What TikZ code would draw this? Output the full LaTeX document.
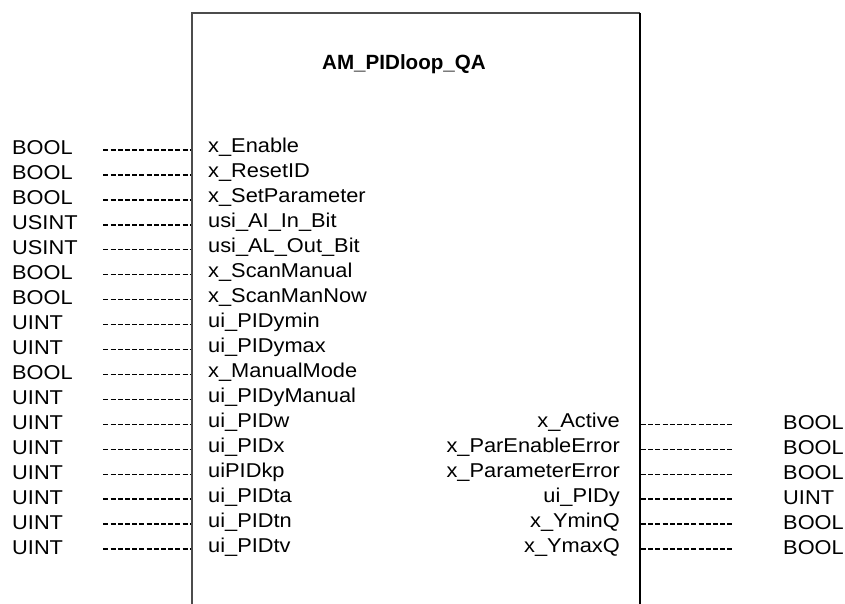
\documentclass[tikz,border=0pt]{standalone}
\usepackage{fontspec}
\setmainfont[FakeStretch=1.09]{Liberation Sans}
\newfontfamily\titlefont{Liberation Sans}
\begin{document}
\begin{tikzpicture}[x=1pt,y=-1pt,
  lbl/.style={inner sep=0pt, font=\fontsize{20}{20}\selectfont},
  typL/.style={lbl, anchor=base west, text width=70pt, align=left},
  pinL/.style={lbl, anchor=base west},
  pinR/.style={lbl, anchor=base east},
  typR/.style={lbl, anchor=base west},
  conn/.style={line width=1.4pt, dash pattern=on 5pt off 2.2pt},
  boxline/.style={line width=1.3pt, draw=black!70}]
\useasboundingbox (0,0) rectangle (845,604);
\draw[boxline] (192,604) -- (192,13) -- (640,13);
\draw[line width=1.3pt] (640,13) -- (640,604);
\node[inner sep=0pt, anchor=base, font=\titlefont\fontsize{20.6}{20.6}\selectfont\bfseries] (title) at (404,70) {AM\_PIDloop\_QA};
\foreach \i/\t/\p in {0/BOOL/x\_Enable,1/BOOL/x\_ResetID,2/BOOL/x\_SetParameter,3/USINT/usi\_AI\_In\_Bit,4/USINT/usi\_AL\_Out\_Bit,5/BOOL/x\_ScanManual,6/BOOL/x\_ScanManNow,7/UINT/ui\_PIDymin,8/UINT/ui\_PIDymax,9/BOOL/x\_ManualMode,10/UINT/ui\_PIDyManual,11/UINT/ui\_PIDw,12/UINT/ui\_PIDx,13/UINT/uiPIDkp,14/UINT/ui\_PIDta,15/UINT/ui\_PIDtn,16/UINT/ui\_PIDtv}{
  \node[typL] (tl\i) at (12,155+24.94*\i) {\t};
  \node[pinL] (pl\i) at (208,153+24.94*\i) {\p};
  \draw[conn] ([shift={(21,-5)}]tl\i.base east) -- ([shift={(-18,-3)}]pl\i.base west);
}
\foreach \i/\p/\t in {11/x\_Active/BOOL,12/x\_ParEnableError/BOOL,13/x\_ParameterError/BOOL,14/ui\_PIDy/UINT,15/x\_YminQ/BOOL,16/x\_YmaxQ/BOOL}{
  \node[pinR] (pr\i) at (620,153+24.94*\i) {\p};
  \node[typR] (tr\i) at (783,155+24.94*\i) {\t};
  \draw[conn] ([shift={(21,-3)}]pr\i.base east) -- ([shift={(-50,-5)}]tr\i.base west);
}
\end{tikzpicture}
\end{document}
